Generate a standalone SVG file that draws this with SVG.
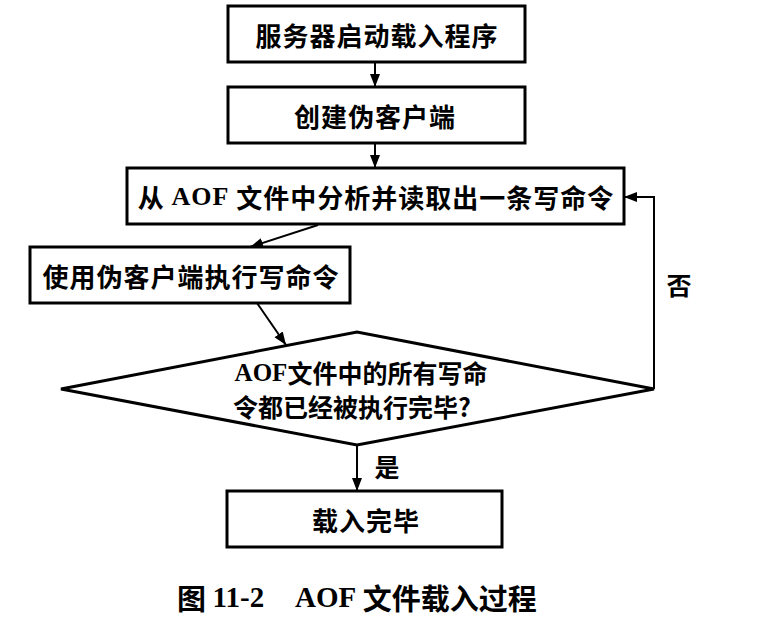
<svg xmlns="http://www.w3.org/2000/svg" width="775" height="627" viewBox="0 0 775 627">
  <style>
    .box { fill: #ffffff; stroke: #000000; stroke-width: 3; }
    .t { font-family: "Noto Sans CJK SC", "Noto Sans", sans-serif; font-weight: 700; font-size: 26px; fill: #000; text-anchor: middle; dominant-baseline: central; letter-spacing: 1px; }
    .d { font-family: "Noto Sans CJK SC", "Noto Sans", sans-serif; font-weight: 700; font-size: 25px; fill: #000; text-anchor: middle; dominant-baseline: central; }
    .lat { font-family: "Liberation Serif", serif; font-weight: 700; }
    .cap { font-family: "Noto Sans CJK SC", "Noto Sans", sans-serif; font-weight: 700; font-size: 29px; fill: #000; dominant-baseline: central; }
    .conn { fill: none; stroke: #000; stroke-width: 2; }
  </style>
  <defs>
    <marker id="arr" markerUnits="userSpaceOnUse" markerWidth="14" markerHeight="12" refX="13" refY="5" orient="auto">
      <path d="M0,0 L13,5 L0,10 z" fill="#000"/>
    </marker>
  </defs>
  <rect width="775" height="627" fill="#ffffff"/>

  <g id="connectors">
    <line class="conn" x1="375" y1="62" x2="375" y2="87" marker-end="url(#arr)"/>
    <line class="conn" x1="375" y1="143" x2="375" y2="168" marker-end="url(#arr)"/>
    <line class="conn" x1="318" y1="225" x2="250" y2="247" marker-end="url(#arr)"/>
    <line class="conn" x1="257" y1="303" x2="286" y2="345" marker-end="url(#arr)"/>
    <line class="conn" x1="357" y1="445" x2="357" y2="491" marker-end="url(#arr)"/>
    <polyline class="conn" points="654,389 654,197 624,197" marker-end="url(#arr)"/>
    <text class="d" x="387" y="466">是</text>
    <text class="d" x="679" y="284">否</text>
  </g>

  <g id="start">
    <rect class="box" x="228" y="6" width="297" height="56"/>
    <text class="t" x="377" y="34">服务器启动载入程序</text>
  </g>
  <g id="create-client">
    <rect class="box" x="228" y="87" width="297" height="56"/>
    <text class="t" x="375" y="115">创建伪客户端</text>
  </g>
  <g id="read-command">
    <rect class="box" x="127" y="168" width="497" height="56"/>
    <text class="t" x="376" y="196">从 <tspan class="lat">AOF</tspan> 文件中分析并读取出一条写命令</text>
  </g>
  <g id="execute">
    <rect class="box" x="30" y="247" width="320" height="56"/>
    <text class="t" x="191" y="275">使用伪客户端执行写命令</text>
  </g>
  <g id="decision">
    <polygon class="box" points="61,389 357,332 654,389 357,445"/>
    <text class="d" x="361" y="372"><tspan class="lat">AOF</tspan>文件中的所有写命</text>
    <text class="d" x="352" y="406">令都已经被执行完毕?</text>
  </g>
  <g id="done">
    <rect class="box" x="227" y="491" width="275" height="56"/>
    <text class="t" x="366" y="519">载入完毕</text>
  </g>

  <g id="caption">
    <text class="cap" x="177" y="597">图 <tspan class="lat">11-2</tspan><tspan x="295" class="lat">AOF</tspan> 文件载入过程</text>
  </g>
</svg>
